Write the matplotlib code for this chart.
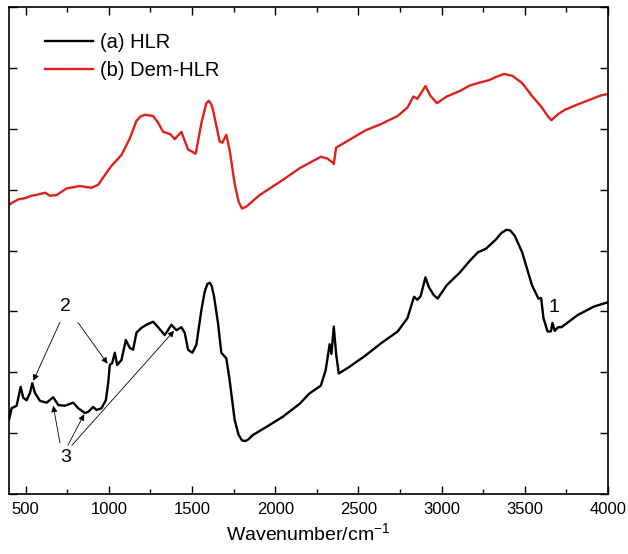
import matplotlib
matplotlib.use("Agg")
from matplotlib import pyplot as plt
from matplotlib.ticker import MultipleLocator, NullFormatter

plt.rcParams['font.family'] = ['Liberation Sans', 'DejaVu Sans']
plt.rcParams['mathtext.fontset'] = 'custom'
plt.rcParams['mathtext.rm'] = 'Liberation Sans'

# (a) HLR - black spectrum
hlr_x = [400, 416, 446, 470, 486, 506, 526, 540, 556, 586, 626, 666, 696, 736, 786,
         816, 856, 876, 906, 926, 956, 982, 996, 1006, 1020, 1036, 1050, 1076, 1102,
         1126, 1146, 1166, 1196, 1226, 1266, 1296, 1336, 1376, 1406, 1436, 1456, 1476,
         1502, 1526, 1556, 1576, 1592, 1606, 1618, 1632, 1656, 1676, 1706, 1726, 1756,
         1780, 1800, 1820, 1840, 1866, 1946, 2046, 2146, 2205, 2274, 2303, 2327, 2338,
         2352, 2366, 2382, 2441, 2540, 2638, 2736, 2795, 2825, 2835, 2854, 2874, 2903,
         2923, 2952, 2976, 3031, 3110, 3169, 3218, 3267, 3326, 3360, 3390, 3412, 3440,
         3484, 3543, 3582, 3598, 3612, 3637, 3657, 3666, 3680, 3700, 3720, 3818, 3916,
         4000]
hlr_y = [1.22, 1.41, 1.45, 1.76, 1.58, 1.54, 1.66, 1.82, 1.66, 1.53, 1.50, 1.59, 1.46,
         1.45, 1.50, 1.41, 1.33, 1.35, 1.43, 1.38, 1.41, 1.54, 1.82, 2.12, 2.15, 2.32,
         2.12, 2.20, 2.53, 2.40, 2.37, 2.65, 2.73, 2.78, 2.83, 2.74, 2.61, 2.78, 2.69,
         2.74, 2.65, 2.37, 2.32, 2.45, 3.02, 3.32, 3.45, 3.47, 3.42, 3.25, 2.81, 2.32,
         2.23, 1.87, 1.22, 0.97, 0.88, 0.87, 0.90, 0.97, 1.10, 1.27, 1.48, 1.65, 1.78,
         2.03, 2.46, 2.30, 2.75, 2.30, 1.98, 2.08, 2.27, 2.48, 2.67, 2.89, 3.16, 3.24,
         3.19, 3.25, 3.56, 3.40, 3.27, 3.21, 3.43, 3.64, 3.83, 3.97, 4.03, 4.18, 4.29,
         4.34, 4.33, 4.24, 3.97, 3.43, 3.21, 3.22, 2.89, 2.67, 2.67, 2.81, 2.68, 2.74,
         2.74, 2.94, 3.08, 3.15]

# (b) Dem-HLR - red spectrum
dem_x = [400, 416, 456, 496, 536, 576, 616, 646, 686, 746, 826, 896, 936, 966, 1016,
         1076, 1126, 1166, 1190, 1216, 1266, 1296, 1326, 1370, 1396, 1436, 1476, 1522,
         1556, 1586, 1602, 1616, 1626, 1666, 1682, 1706, 1726, 1756, 1780, 1800, 1826,
         1906, 2046, 2146, 2274, 2313, 2343, 2352, 2366, 2441, 2540, 2638, 2736, 2795,
         2831, 2854, 2903, 2933, 2972, 3031, 3110, 3169, 3218, 3287, 3326, 3375, 3425,
         3484, 3543, 3602, 3640, 3660, 3700, 3740, 3818, 3960, 4000]
dem_y = [4.75, 4.78, 4.84, 4.86, 4.90, 4.92, 4.95, 4.90, 4.91, 5.02, 5.06, 5.03, 5.08,
         5.20, 5.39, 5.57, 5.84, 6.13, 6.20, 6.23, 6.21, 6.10, 5.95, 5.91, 5.83, 5.95,
         5.66, 5.59, 6.09, 6.42, 6.46, 6.40, 6.31, 5.79, 5.77, 5.90, 5.65, 5.10, 4.80,
         4.69, 4.72, 4.91, 5.16, 5.35, 5.54, 5.51, 5.45, 5.42, 5.69, 5.81, 5.97, 6.08,
         6.21, 6.35, 6.53, 6.49, 6.70, 6.54, 6.42, 6.53, 6.62, 6.71, 6.75, 6.80, 6.85,
         6.90, 6.87, 6.75, 6.54, 6.35, 6.20, 6.14, 6.24, 6.31, 6.40, 6.55, 6.57]

# band labels: text, text position, arrow heads
label_2_pos = (742, 3.08)
label_2_heads = [(706, 2.82, 546, 1.86), (814, 2.82, 992, 2.14)]
label_3_pos = (742, 0.60)
label_3_heads = [(706, 0.84, 666, 1.45), (754, 0.80, 852, 1.31), (778, 0.80, 1392, 2.68)]
label_1_pos = (3676, 3.06)

fig = plt.figure(figsize=(6.28, 5.54), dpi=100)
ax = fig.add_axes([9 / 628, 60 / 554, 599 / 628, 487 / 554])

ax.plot(hlr_x, hlr_y, color='black', lw=1.7, label='(a) HLR', solid_joinstyle='round')
ax.plot(dem_x, dem_y, color='#e0201b', lw=1.7, label='(b) Dem-HLR', solid_joinstyle='round')

ax.set_xlim(400, 4000)
ax.set_ylim(0, 8)
ax.xaxis.set_major_locator(MultipleLocator(500))
ax.xaxis.set_minor_locator(MultipleLocator(250))
ax.yaxis.set_major_locator(MultipleLocator(1))
ax.yaxis.set_major_formatter(NullFormatter())
ax.tick_params(which='both', direction='in', top=True, right=True, labelsize=12, width=1)
ax.tick_params(which='major', length=6)
ax.tick_params(which='minor', length=3.5)
ax.tick_params(axis='x', pad=6)
for s in ax.spines.values():
    s.set_linewidth(1.2)

ax.set_xlabel('Wavenumber/cm$^{-1}$', fontsize=14, labelpad=4)

# annotations
ax.text(label_2_pos[0], label_2_pos[1], '2', fontsize=14, ha='center', va='center')
for x0, y0, x1, y1 in label_2_heads:
    ax.annotate('', xy=(x1, y1), xytext=(x0, y0),
                arrowprops=dict(arrowstyle='-|>', lw=0.6, color='black',
                                mutation_scale=9, shrinkA=0, shrinkB=0))
ax.text(label_3_pos[0], label_3_pos[1], '3', fontsize=14, ha='center', va='center')
for x0, y0, x1, y1 in label_3_heads:
    ax.annotate('', xy=(x1, y1), xytext=(x0, y0),
                arrowprops=dict(arrowstyle='-|>', lw=0.6, color='black',
                                mutation_scale=9, shrinkA=0, shrinkB=0))
ax.text(label_1_pos[0], label_1_pos[1], '1', fontsize=14, ha='center', va='center')

ax.legend(loc='upper left', bbox_to_anchor=(36 / 599, 1 - 26 / 487), frameon=False,
          fontsize=14.5, handlelength=2.4, handletextpad=0.35, labelspacing=0.43,
          borderpad=0, borderaxespad=0)

plt.savefig('out.png', dpi=100)
